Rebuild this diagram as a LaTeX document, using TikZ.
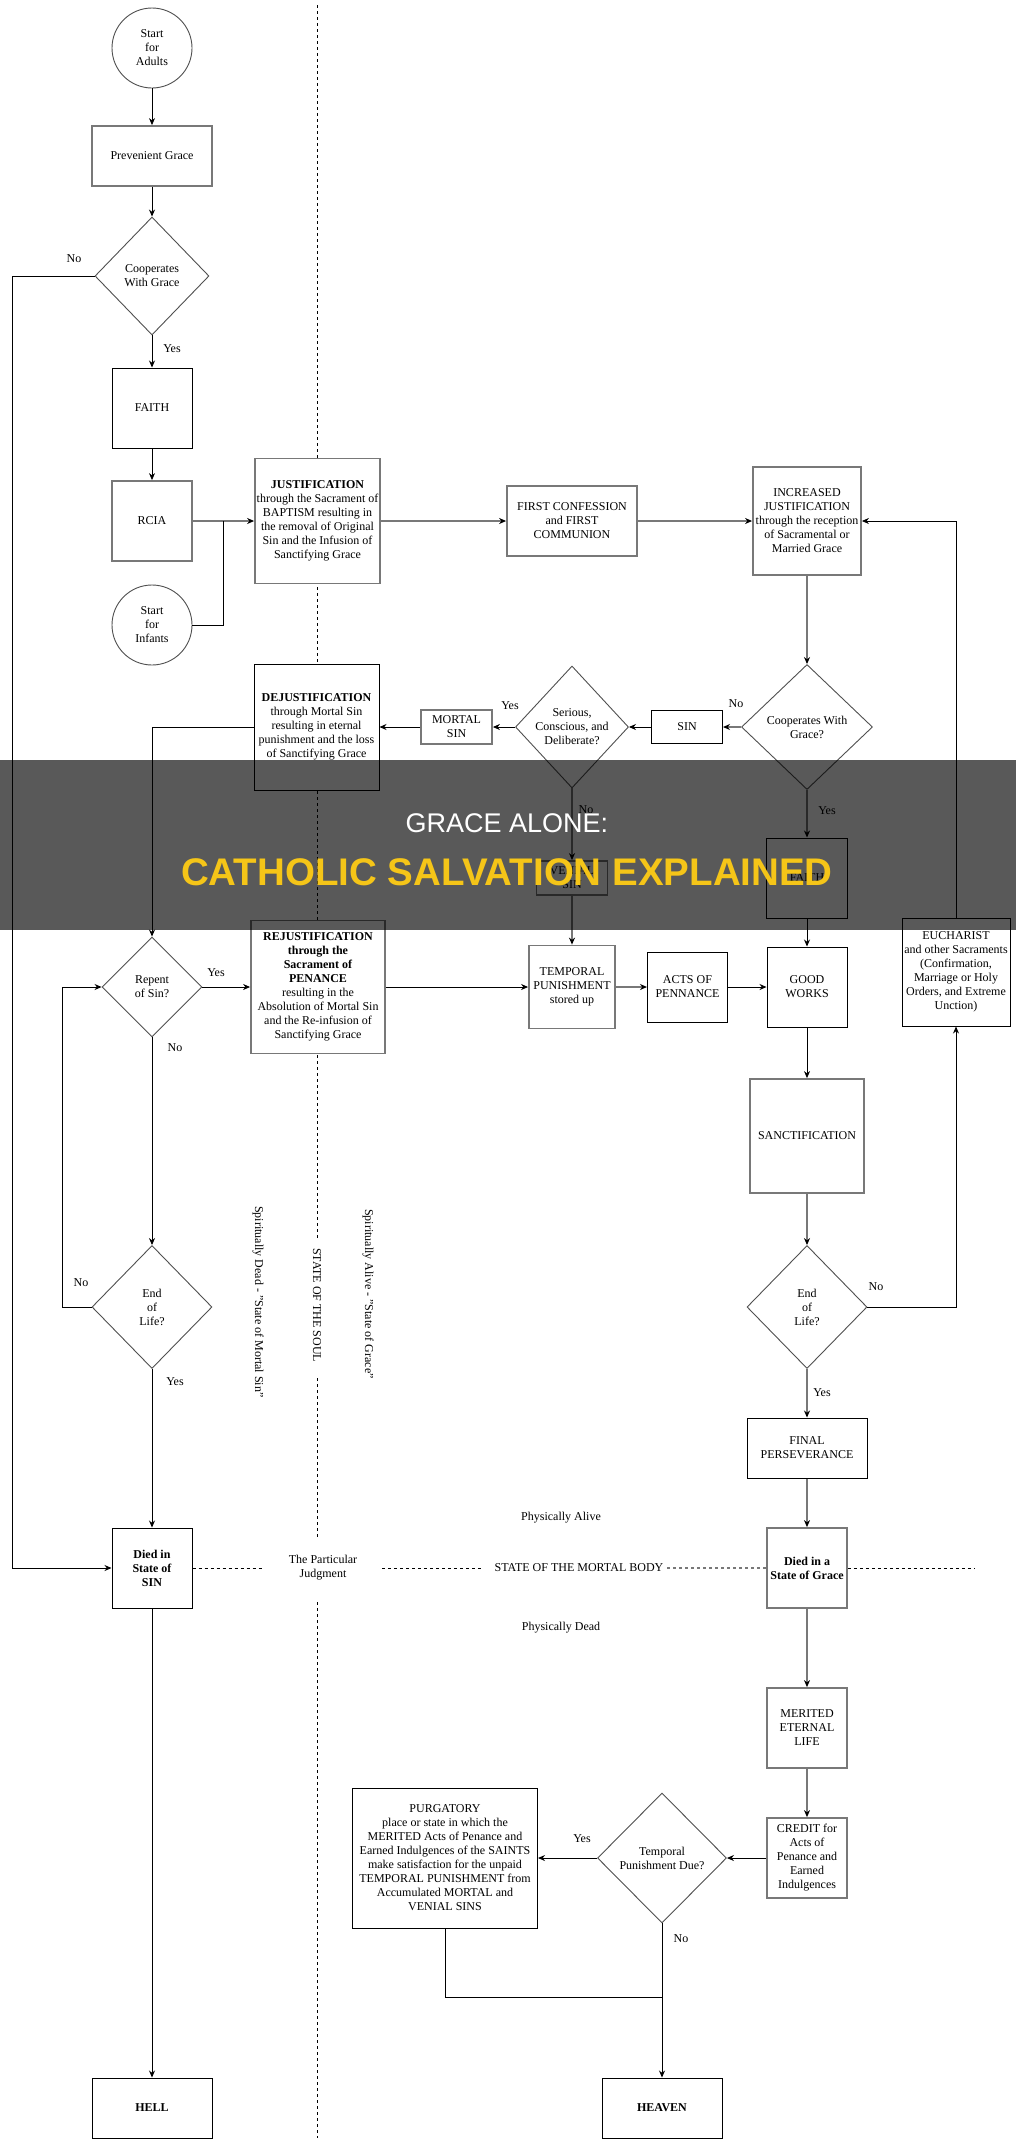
\documentclass[tikz,border=0pt]{standalone}
\usepackage{fontspec}
\setmainfont{Liberation Serif}
\newfontfamily\bannerfont{Liberation Sans}
\usetikzlibrary{shapes.geometric,arrows.meta,backgrounds}
\definecolor{lgray}{RGB}{120,120,120}
\definecolor{dgray}{RGB}{80,80,80}
\definecolor{banneryellow}{RGB}{245,197,24}
\begin{document}
\begin{tikzpicture}[x=1pt,y=-1pt,
  every node/.style={font=\fontsize{12}{14}\selectfont, align=center, inner sep=0pt},
  bf/.style={font=\fontsize{12}{14}\selectfont\bfseries},
  bbox/.style={draw=black, line width=1pt, fill=white, rectangle},
  gbox/.style={draw=lgray, line width=1.8pt, fill=white, rectangle},
  dia/.style={draw=dgray, line width=0.9pt, fill=white, diamond},
  circ/.style={draw=dgray, line width=0.9pt, fill=white, circle, minimum size=80pt},
  sz/.style 2 args={minimum width=#1pt, minimum height=#2pt},
  conn/.style={draw=black, line width=0.9pt, -{Stealth[length=7pt,width=6pt]}},
  gconn/.style={draw=lgray, line width=1.6pt, -{Stealth[length=7pt,width=6pt,color=black]}},
  pline/.style={draw=black, line width=0.9pt},
  divider/.style={draw=black, line width=0.8pt, dash pattern=on 3pt off 3pt},
]
\useasboundingbox (0,0) rectangle (1016,2145);

% ---------- nodes ----------
\node[circ] (adults) at (152,48) {Start\\for\\Adults};
\node[gbox, sz={120}{60}] (prev) at (152,156) {Prevenient Grace};
\node[dia, sz={114}{118}] (coop1) at (152,276) {Cooperates\\With Grace};
\node[bbox, sz={80}{80}] (faith1) at (152,408) {FAITH};
\node[gbox, sz={80}{80}] (rcia) at (152,521) {RCIA};
\node[circ] (infants) at (152,625) {Start\\for\\Infants};
\node[gbox, sz={125}{125}] (just) at (317.5,521) {\textbf{JUSTIFICATION}\\through the Sacrament of\\BAPTISM resulting in\\the removal of Original\\Sin and the Infusion of\\Sanctifying Grace};
\node[gbox, sz={130}{70}] (fc) at (572,521) {FIRST CONFESSION\\and FIRST\\COMMUNION};
\node[gbox, sz={108}{108}] (ij) at (807,521) {INCREASED\\JUSTIFICATION\\through the reception\\of Sacramental or\\Married Grace};
\node[dia, sz={131}{125}] (coop2) at (807,727) {Cooperates With\\Grace?};
\node[bbox, sz={71}{33}] (sin) at (687,727) {SIN};
\node[dia, sz={113}{122}] (serious) at (572,727) {Serious,\\Conscious, and\\Deliberate?};
\node[gbox, sz={71}{34}] (mortal) at (456.5,727) {MORTAL\\SIN};
\node[bbox, sz={125}{126}] (dejust) at (316.5,727) {\textbf{DEJUSTIFICATION}\\through Mortal Sin\\resulting in eternal\\punishment and the loss\\of Sanctifying Grace};
\node[gbox, sz={71}{34}] (venial) at (572,878) {VENIAL\\SIN};
\node[gbox, sz={86}{83}] (temp) at (572,987) {TEMPORAL\\PUNISHMENT\\stored up};
\node[bbox, sz={80}{70}] (acts) at (687.5,987) {ACTS OF\\PENNANCE};
\node[bbox, sz={80}{80}] (good) at (807,987) {GOOD\\WORKS};
\node[bbox, sz={81}{80}] (faith2) at (807,878) {FAITH};
\node[bbox, sz={108}{108}] (euch) at (956,972) {EUCHARIST\\and other Sacraments\\(Confirmation,\\Marriage or Holy\\Orders, and Extreme\\Unction)};
\node[dia, sz={100}{100}] (repent) at (152,987) {Repent\\of Sin?};
\node[gbox, sz={134}{133}] (rejust) at (318,987) {\textbf{REJUSTIFICATION}\\\textbf{through the}\\\textbf{Sacrament of}\\\textbf{PENANCE}\\resulting in the\\Absolution of Mortal Sin\\and the Re-infusion of\\Sanctifying Grace};
\node[dia, sz={120}{123}] (eol1) at (152,1307) {End\\of\\Life?};
\node[bbox, bf, sz={80}{80}] (diedsin) at (152,1568) {Died in\\State of\\SIN};
\node[gbox, sz={114}{114}] (sanct) at (807,1136) {SANCTIFICATION};
\node[dia, sz={120}{123}] (eol2) at (807,1307) {End\\of\\Life?};
\node[bbox, sz={120}{60}] (final) at (807,1448) {FINAL\\PERSEVERANCE};
\node[gbox, bf, sz={80}{80}] (diedgrace) at (807,1568) {Died in a\\State of Grace};
\node[gbox, sz={80}{80}] (merited) at (807,1728) {MERITED\\ETERNAL\\LIFE};
\node[gbox, sz={80}{80}] (credit) at (807,1858) {CREDIT for\\Acts of\\Penance and\\Earned\\Indulgences};
\node[dia, sz={129}{130}] (tdue) at (662,1858) {Temporal\\Punishment Due?};
\node[bbox, sz={185}{140}] (purg) at (445,1858) {PURGATORY\\place or state in which the\\MERITED Acts of Penance and\\Earned Indulgences of the SAINTS\\make satisfaction for the unpaid\\TEMPORAL PUNISHMENT from\\Accumulated MORTAL and\\VENIAL SINS};
\node[bbox, bf, sz={120}{60}] (heaven) at (662,2108) {HEAVEN};
\node[bbox, bf, sz={120}{60}] (hell) at (152,2108) {HELL};

% ---------- free texts ----------
\node[rotate=-90, anchor=west] (sdead) at (258,1206) {Spiritually Dead - "State of Mortal Sin"};
\node[rotate=-90, anchor=west] (soul) at (317,1248) {STATE OF THE SOUL};
\node[rotate=-90, anchor=west] (salive) at (368,1209) {Spiritually Alive - "State of Grace"};
\node (judg) at (323,1568) {The Particular\\Judgment};
\node (body) at (579,1568) {STATE OF THE MORTAL BODY};
\node (palive) at (561,1518) {Physically Alive};
\node (pdead) at (561,1628) {Physically Dead};

% ---------- background: dividers ----------
\begin{scope}[on background layer]
\fill[white] (0,0) rectangle (1016,2145);
\draw[divider] (317,5) -- (317,1238);
\draw[divider] (317,1378) -- (317,1538);
\draw[divider] (317,1602) -- (317,2138);
\draw[divider] (diedsin.east) -- (262,1568);
\draw[divider] (382,1568) -- (482,1568);
\draw[divider, draw=lgray, line width=1.2pt] (667,1568) -- (diedgrace.west);
\draw[divider] (diedgrace.east) -- (975,1568);
\end{scope}

% ---------- connectors ----------
\draw[conn] (adults) -- (prev);
\draw[conn] (prev) -- (coop1);
\draw[conn] (coop1) -- (faith1);
\draw[conn] (faith1) -- (rcia);
\draw[gconn] (rcia) -- (just);
\coordinate (jn) at (223,521);
\draw[pline] (infants.east) -| (jn);
\draw[gconn] (just) -- (fc);
\draw[gconn] (fc) -- (ij);
\draw[gconn] (ij) -- (coop2);
\draw[gconn] (coop2) -- (sin);
\draw[conn] (sin) -- (serious);
\draw[conn] (serious) -- (mortal);
\draw[conn] (mortal) -- (dejust);
\draw[conn] (dejust.west) -| (repent.north);
\draw[gconn] (serious) -- (venial);
\draw[gconn] (venial) -- (temp);
\draw[gconn] (coop2) -- (faith2);
\draw[conn] (faith2) -- (good);
\draw[gconn] (temp) -- (acts);
\draw[conn] (acts) -- (good);
\draw[conn] (rejust) -- (temp);
\draw[conn] (repent) -- (rejust);
\draw[conn] (repent) -- (eol1);
\coordinate (lp) at (62,1307);
\draw[conn] (eol1.west) -- (lp) |- (repent.west);
\draw[conn] (eol1) -- (diedsin);
\coordinate (nl) at (12,276);
\draw[conn] (coop1.west) -- (nl) |- (diedsin.west);
\draw[conn] (diedsin) -- (hell);
\draw[conn] (good) -- (sanct);
\draw[gconn] (sanct) -- (eol2);
\draw[gconn] (eol2) -- (final);
\draw[conn] (eol2.east) -| (euch.south);
\draw[conn] (euch.north) |- (ij.east);
\draw[gconn] (final) -- (diedgrace);
\draw[gconn] (diedgrace) -- (merited);
\draw[gconn] (merited) -- (credit);
\draw[conn] (credit) -- (tdue);
\draw[conn] (tdue) -- (purg);
\draw[conn] (tdue) -- (heaven);
\coordinate (mj) at (662,1997);
\draw[pline] (purg.south) |- (mj);

% ---------- branch labels ----------
\node (l1) at (74,259) {No};
\node (l2) at (172,349) {Yes};
\node (l3) at (510,706) {Yes};
\node (l4) at (736,704) {No};
\node (l5) at (586,810) {No};
\node (l6) at (827,811) {Yes};
\node (l7) at (216,973) {Yes};
\node (l8) at (175,1048) {No};
\node (l9) at (81,1283) {No};
\node (l10) at (175,1382) {Yes};
\node (l11) at (876,1287) {No};
\node (l12) at (822,1393) {Yes};
\node (l13) at (582,1839) {Yes};
\node (l14) at (681,1939) {No};

% ---------- banner ----------
\fill[black, opacity=0.65] (0,760) rectangle (1016,930);
\node[font=\bannerfont\fontsize{27}{32}\selectfont, text=white] (bt1) at (507,823) {GRACE ALONE:};
\node[font=\bannerfont\bfseries\fontsize{38.5}{46}\selectfont, text=banneryellow] (bt2) at (507,872) {CATHOLIC SALVATION EXPLAINED};
\end{tikzpicture}
\end{document}
